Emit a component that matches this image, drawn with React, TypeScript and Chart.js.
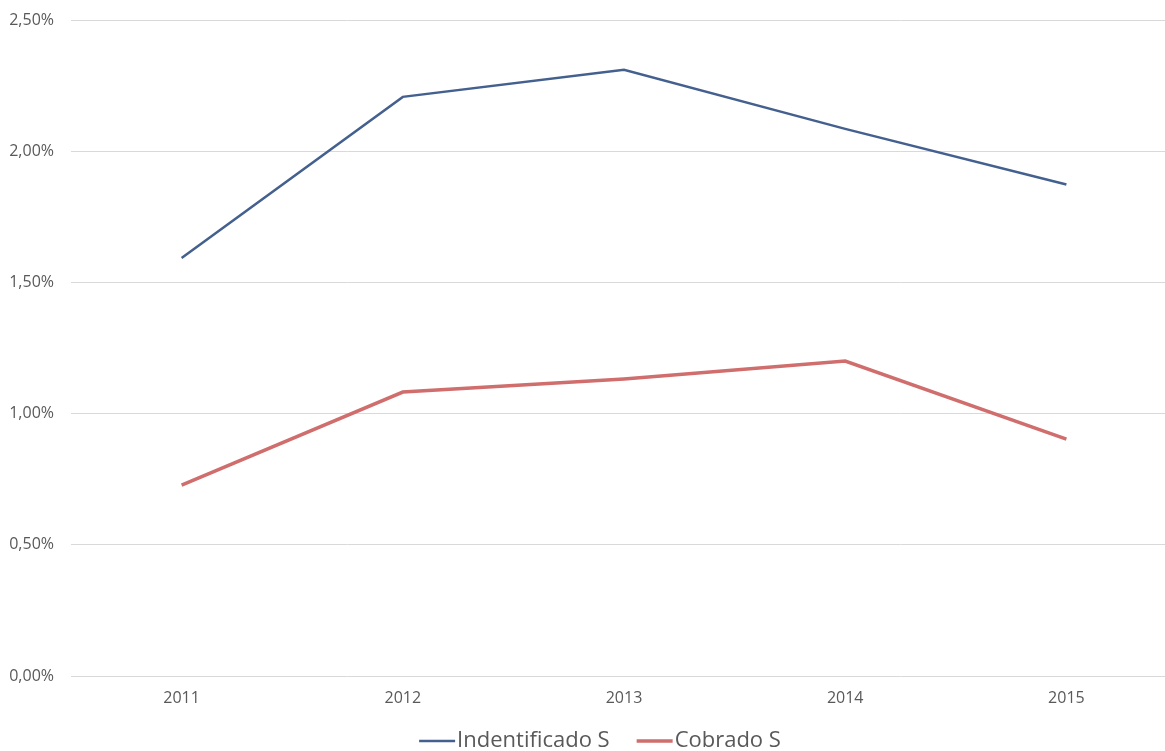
import React, { useEffect, useRef } from "react";
import { Chart, registerables } from "chart.js";

Chart.register(...registerables);

const categories = ["2011", "2012", "2013", "2014", "2015"];
const identificadoS = [1.593, 2.207, 2.31, 2.085, 1.873];
const cobradoS = [0.727, 1.082, 1.132, 1.2, 0.903];
const seriesNames = ["Indentificado S", "Cobrado S"];

const FONT = "'Open Sans', 'Noto Sans', sans-serif";

const bottomLegend = {
  id: "bottomLegend",
  afterDraw(chart: any) {
    const ctx = chart.ctx;
    const ds = chart.data.datasets;
    const lineW = 36;
    const gapText = 2;
    const gapItem = 27;
    ctx.save();
    ctx.font = `22px ${FONT}`;
    const widths = ds.map((d: any) => lineW + gapText + ctx.measureText(d.label).width);
    const total = widths.reduce((a: number, b: number) => a + b, 0) + gapItem * (ds.length - 1);
    let x = chart.width / 2 - total / 2;
    const y = chart.height - 10;
    ds.forEach((d: any, i: number) => {
      ctx.strokeStyle = d.borderColor;
      ctx.lineWidth = d.borderWidth;
      ctx.beginPath();
      ctx.moveTo(x, y);
      ctx.lineTo(x + lineW, y);
      ctx.stroke();
      ctx.fillStyle = "#595959";
      ctx.textBaseline = "middle";
      ctx.textAlign = "left";
      ctx.fillText(d.label, x + lineW + gapText, y);
      x += widths[i] + gapItem;
    });
    ctx.restore();
  },
};

export default function App() {
  const ref = useRef<HTMLCanvasElement | null>(null);
  useEffect(() => {
    if (!ref.current) return;
    const chart = new Chart(ref.current, {
      type: "line",
      data: {
        labels: categories,
        datasets: [
          {
            label: seriesNames[0],
            data: identificadoS,
            borderColor: "#44608F",
            backgroundColor: "#44608F",
            borderWidth: 2.5,
            pointRadius: 0,
            tension: 0,
          },
          {
            label: seriesNames[1],
            data: cobradoS,
            borderColor: "#D06D6D",
            backgroundColor: "#D06D6D",
            borderWidth: 3.5,
            pointRadius: 0,
            tension: 0,
          },
        ],
      },
      options: {
        responsive: false,
        animation: false,
        layout: { padding: { top: 20, left: 0, right: 23, bottom: 35 } },
        plugins: {
          tooltip: { enabled: false },
          legend: { display: false },
        },
        scales: {
          x: {
            offset: true,
            grid: { display: false, drawTicks: false },
            border: { display: false },
            ticks: { color: "#595959", font: { family: FONT, size: 16 }, padding: 13 },
            afterFit: (s: any) => {
              s.height = 40;
              s.paddingLeft = 0;
              s.paddingRight = 0;
            },
          },
          y: {
            min: 0,
            max: 2.5,
            grid: { color: "#D9D9D9", drawTicks: false, lineWidth: 1 },
            border: { display: false },
            ticks: {
              stepSize: 0.5,
              color: "#595959",
              font: { family: FONT, size: 16 },
              padding: 17,
              callback: (v: any) => Number(v).toFixed(2).replace(".", ",") + "%",
            },
            afterFit: (s: any) => {
              s.width = 71;
              s.paddingTop = 0;
              s.paddingBottom = 0;
            },
          },
        },
      },
      plugins: [bottomLegend],
    });
    return () => chart.destroy();
  }, []);
  return (
    <div style={{ position: "fixed", left: 0, top: 0, width: 1165, height: 751, overflow: "hidden", background: "#fff" }}>
      <canvas ref={ref} width={1200} height={751} style={{ display: "block" }} />
    </div>
  );
}
